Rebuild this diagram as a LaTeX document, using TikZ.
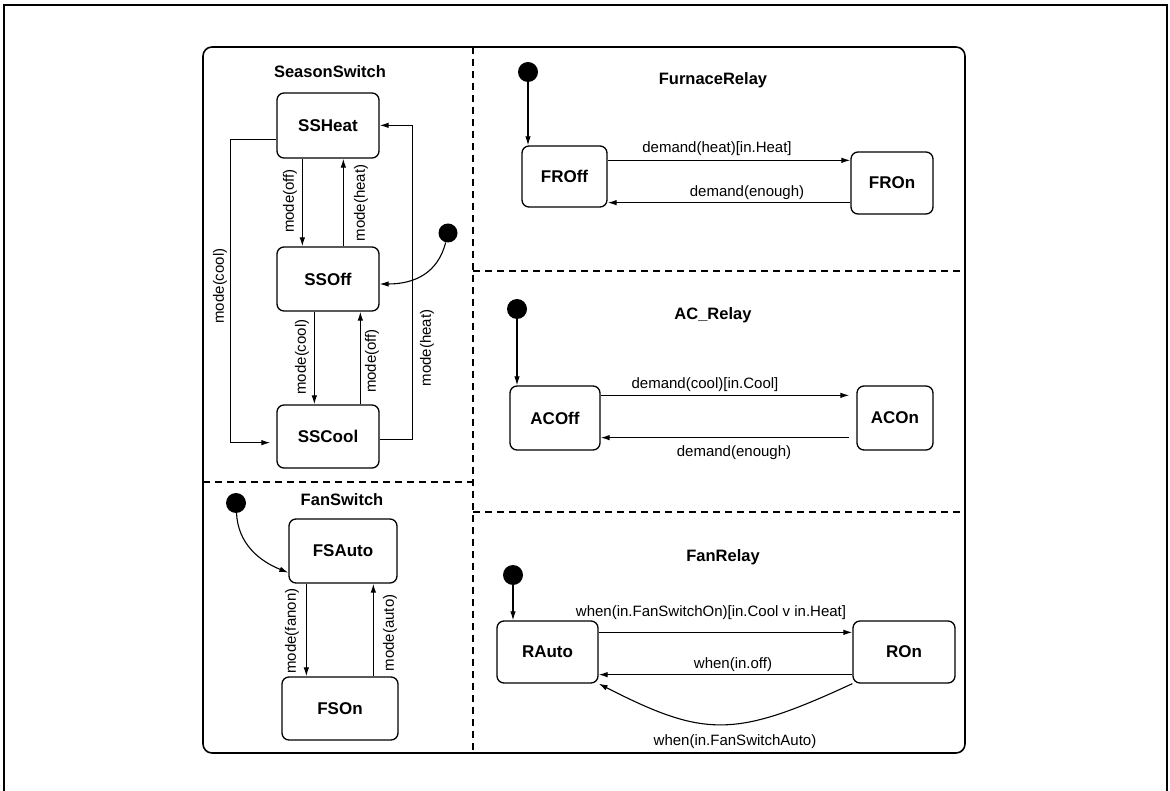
\documentclass[tikz,border=0pt]{standalone}
\usepackage{fontspec}
\setmainfont{Liberation Sans}
\usetikzlibrary{arrows.meta,calc}
\begin{document}
\begin{tikzpicture}[x=1pt,y=-1pt,
  state/.style={draw, line width=1.3pt, rounded corners=7pt, font=\fontsize{17}{20}\selectfont\bfseries, inner sep=0pt},
  title/.style={font=\fontsize{16.5}{20}\selectfont\bfseries, inner sep=0pt},
  lbl/.style={font=\fontsize{15}{18}\selectfont, inner sep=0pt},
  vlbl/.style={lbl, rotate=90},
  init/.style={circle, fill=black, minimum size=20pt, inner sep=0pt},
  tr/.style={line width=1.1pt, -{Latex[length=9pt,width=5.5pt]}},
  region/.style={line width=1.1pt, dash pattern=on 7pt off 5pt}
]
\useasboundingbox (0,0) rectangle (1170,791);
% page frame
\draw[line width=1.8pt] (4,791) -- (4,5) -- (1167,5) -- (1167,791);
% outer state
\draw[line width=1.6pt, rounded corners=9pt] (203,47) rectangle (965,753);
% region separators
\draw[region] (473,47) -- (473,753);
\draw[region] (203,482) -- (473,482);
\draw[region] (473,271) -- (965,271);
\draw[region] (473,512) -- (965,512);

% titles
\node[title] (tSS) at (330,72) {SeasonSwitch};
\node[title] (tFS) at (342,500) {FanSwitch};
\node[title] (tFR) at (713,80) {FurnaceRelay};
\node[title] (tAC) at (713,315) {AC\_Relay};
\node[title] (tFan) at (723,557) {FanRelay};

% states
\node[state, minimum width=102pt, minimum height=65pt] (SSHeat) at (328,125.5) {SSHeat};
\node[state, minimum width=102pt, minimum height=64pt] (SSOff) at (328,279) {SSOff};
\node[state, minimum width=102pt, minimum height=63pt] (SSCool) at (328,436.5) {SSCool};
\node[state, minimum width=108pt, minimum height=64pt] (FSAuto) at (343,551) {FSAuto};
\node[state, minimum width=116pt, minimum height=63pt] (FSOn) at (340,708.5) {FSOn};
\node[state, minimum width=85pt, minimum height=61pt] (FROff) at (564.5,176.5) {FROff};
\node[state, minimum width=82pt, minimum height=62pt] (FROn) at (892,183) {FROn};
\node[state, minimum width=90pt, minimum height=64pt] (ACOff) at (555,418) {ACOff};
\node[state, minimum width=76pt, minimum height=64pt] (ACOn) at (895,418) {ACOn};
\node[state, minimum width=101pt, minimum height=62pt] (RAuto) at (547.5,652) {RAuto};
\node[state, minimum width=102pt, minimum height=62pt] (ROn) at (904,652) {ROn};

% initial pseudo-states
\node[init, minimum size=19pt] (SSdot) at (448,233) {};
\node[init] (FSdot) at (236,503) {};
\node[init] (FRdot) at (528,72) {};
\node[init] (ACdot) at (517,309) {};
\node[init] (FanDot) at (513,575) {};

% SeasonSwitch transitions
\draw[tr] ($(SSHeat.south west)+(26,0)$) -- ($(SSOff.north west)+(26,0)$)
  node[vlbl] at (290,201) {mode(off)};
\draw[tr] ($(SSOff.north west)+(67,0)$) -- ($(SSHeat.south west)+(67,0)$)
  node[vlbl] at (361,203) {mode(heat)};
\draw[tr] ($(SSOff.south west)+(38,0)$) -- ($(SSCool.north west)+(38,0)$)
  node[vlbl] at (302,357) {mode(cool)};
\draw[tr] ($(SSCool.north west)+(84,0)$) -- ($(SSOff.south west)+(84,0)$)
  node[vlbl] at (372,361) {mode(off)};
\draw[tr] ($(SSHeat.south west)+(0,-19)$) -- ++(-46,0) |- ($(SSCool.south west)+(-6,-26)$)
  node[vlbl] at (220,286) {mode(cool)};
\draw[tr] ($(SSCool.south east)+(0,-29)$) -- ++(33,0) |- ($(SSHeat.north east)+(0,33)$)
  node[vlbl] at (427,348) {mode(heat)};
\draw[tr] (SSdot) .. controls +(-10,40) and +(35,0) .. ($(SSOff.east)+(0,5)$);

% FanSwitch transitions
\draw[tr] ($(FSAuto.south west)+(18,0)$) -- ($(FSOn.north west)+(25,0)$)
  node[vlbl] at (292,631) {mode(fanon)};
\draw[tr] ($(FSOn.north west)+(92,0)$) -- ($(FSAuto.south west)+(85,0)$)
  node[vlbl] at (390,633) {mode(auto)};
\draw[tr] (FSdot) .. controls +(2,40) and +(-30,-12) .. ($(FSAuto.south west)+(0,-11)$);

% FurnaceRelay transitions
\draw[tr] (FRdot) -- (FRdot |- FROff.north);
\draw[tr] ($(FROff.north east)+(0,15)$) -- ($(FROn.north west)+(0,9)$)
  node[lbl] at (717,149) {demand(heat)[in.Heat]};
\draw[tr] ($(FROn.south west)+(0,-12)$) -- ($(FROff.south east)+(0,-5)$)
  node[lbl] at (747,193) {demand(enough)};

% AC_Relay transitions
\draw[tr] (ACdot) -- (ACdot |- ACOff.north);
\draw[tr] ($(ACOff.north east)+(0,10)$) -- ($(ACOn.north west)+(-7,10)$)
  node[lbl] at (705,385) {demand(cool)[in.Cool]};
\draw[tr] ($(ACOn.south west)+(-7,-13)$) -- ($(ACOff.south east)+(0,-13)$)
  node[lbl] at (734,453) {demand(enough)};

% FanRelay transitions
\draw[tr] (FanDot) -- (FanDot |- RAuto.north);
\draw[tr] ($(RAuto.north east)+(0,12)$) -- ($(ROn.north west)+(0,12)$)
  node[lbl] at (711,613) {when(in.FanSwitchOn)[in.Cool v in.Heat]};
\draw[tr] ($(ROn.south west)+(0,-9)$) -- ($(RAuto.south east)+(0,-9)$)
  node[lbl] at (733,665) {when(in.off)};
\draw[tr] (ROn.south west) .. controls (735,738) and (705,738) .. (RAuto.south east)
  node[lbl] at (735,742) {when(in.FanSwitchAuto)};
\end{tikzpicture}
\end{document}
